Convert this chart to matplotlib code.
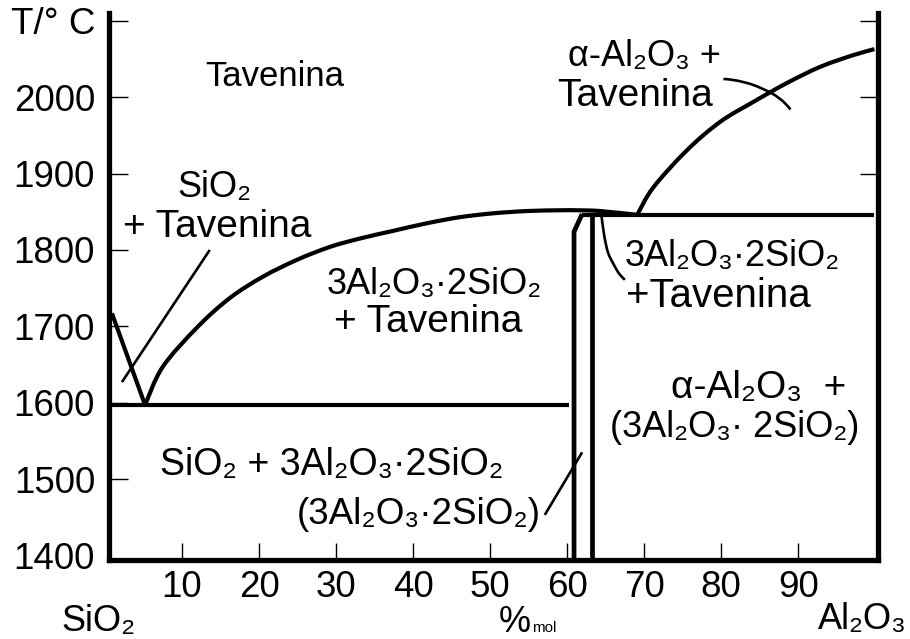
import matplotlib
matplotlib.use("Agg")
import matplotlib.pyplot as plt
from matplotlib.path import Path
from matplotlib.patches import PathPatch

plt.rcParams['font.family'] = ['Liberation Sans', 'DejaVu Sans']

# ---------------- data (composition mol% Al2O3, temperature °C) ----------------
liq_sio2_x = [0.9, 5.2]
liq_sio2_t = [1717, 1597]

liq_mid_x = [5.2, 7.5, 12.0, 16.2, 20.5, 24.9, 29.2, 33.1, 37.4, 41.8, 46.1, 50.4, 54.8, 59.1, 61.3, 64.3, 69.1]
liq_mid_t = [1597, 1647, 1699, 1737, 1765, 1787, 1804, 1815, 1825, 1835, 1843, 1848, 1851, 1852, 1852, 1851, 1846]

liq_al_x = [69.1, 71.2, 75.6, 79.9, 84.2, 88.6, 92.9, 97.1, 99.9]
liq_al_t = [1846, 1882, 1931, 1968, 1994, 2019, 2040, 2055, 2063]

eutectic_x = [0.5, 60.3]
eutectic_t = [1597, 1597]

peritectic_x = [61.9, 99.8]
peritectic_t = [1846, 1846]

mullite_left_x = [60.9, 60.9, 61.95]
mullite_left_t = [1393, 1824, 1847]
mullite_right_x = [63.25, 63.25]
mullite_right_t = [1393, 1848]

lead_sio2_x = [13.6, 2.2]
lead_sio2_t = [1800, 1627]
lead_mul_x = [57.1, 61.95]
lead_mul_t = [1453, 1535]
lead_per_x = [64.4, 64.8, 65.3, 66.0, 66.75, 67.5]
lead_per_t = [1850, 1820, 1797, 1782, 1769, 1761]
lead_top_x = [80.3, 81.95, 84.2, 86.6, 88.1, 89.0]
lead_top_t = [2024, 2022, 2016, 2005, 1994, 1984]

x_ticks = [10, 20, 30, 40, 50, 60, 70, 80, 90]
y_ticks = [1500, 1600, 1700, 1800, 1900, 2000, 2100]
y_ticklabels = ['1500', '1600', '1700', '1800', '1900', '2000', 'T/° C']
y_bottom_tick = [1400]
y_bottom_label = ['1400']
right_ticks = [1900, 2000, 2100]

# (text, x, T, fontsize)
region_labels = [
    ("Tavenina", 22.1, 2027, 25),
    ("SiO₂", 14.2, 1882, 26),
    ("+ Tavenina", 14.6, 1830, 28),
    ("3Al₂O₃·2SiO₂", 42.7, 1755, 26),
    ("+ Tavenina", 41.9, 1706, 28),
    ("α-Al₂O₃ +", 70.1, 2053, 26),
    ("Tavenina", 68.8, 2002, 28),
    ("3Al₂O₃·2SiO₂", 81.4, 1792, 26),
    ("+Tavenina", 79.6, 1740, 29),
    ("α-Al₂O₃  +", 84.9, 1619, 28),
    ("(3Al₂O₃· 2SiO₂)", 81.8, 1568, 26),
    ("SiO₂ + 3Al₂O₃·2SiO₂", 29.4, 1518, 27),
    ("(3Al₂O₃·2SiO₂)", 40.8, 1453, 26.5),
]


def smooth_path(xs, ys):
    """Catmull-Rom spline through the read points, drawn as cubic Bezier segments."""
    pts = list(zip(xs, ys))
    verts = [pts[0]]
    codes = [Path.MOVETO]
    n = len(pts)
    for i in range(n - 1):
        p0 = pts[i - 1] if i > 0 else pts[i]
        p1 = pts[i]
        p2 = pts[i + 1]
        p3 = pts[i + 2] if i + 2 < n else pts[i + 1]
        c1 = (p1[0] + (p2[0] - p0[0]) / 6, p1[1] + (p2[1] - p0[1]) / 6)
        c2 = (p2[0] - (p3[0] - p1[0]) / 6, p2[1] - (p3[1] - p1[1]) / 6)
        verts += [c1, c2, p2]
        codes += [Path.CURVE4] * 3
    return Path(verts, codes)


# ---------------- figure ----------------
W, H = 910, 639
fig = plt.figure(figsize=(W / 100, H / 100), dpi=100)
ax = fig.add_axes([109 / W, 1 - 560 / H, (877.5 - 109) / W, (560 - 12.5) / H])
ax.set_xlim(0.52, 100.3)
ax.set_ylim(1394, 2111)

lw = 3.0
for xs, ts in [(liq_mid_x, liq_mid_t), (liq_al_x, liq_al_t)]:
    ax.add_patch(PathPatch(smooth_path(xs, ts), facecolor='none', edgecolor='black',
                           lw=lw, capstyle='butt', joinstyle='round'))
for xs, ts in [(liq_sio2_x, liq_sio2_t), (eutectic_x, eutectic_t), (peritectic_x, peritectic_t)]:
    ax.plot(xs, ts, color='black', lw=lw, solid_capstyle='butt', solid_joinstyle='round')
for xs, ts in [(mullite_left_x, mullite_left_t), (mullite_right_x, mullite_right_t)]:
    ax.plot(xs, ts, color='black', lw=3.4, solid_capstyle='butt', solid_joinstyle='miter')
for xs, ts in [(lead_sio2_x, lead_sio2_t), (lead_mul_x, lead_mul_t)]:
    ax.plot(xs, ts, color='black', lw=1.9, solid_capstyle='butt')
for xs, ts in [(lead_per_x, lead_per_t), (lead_top_x, lead_top_t)]:
    ax.add_patch(PathPatch(smooth_path(xs, ts), facecolor='none', edgecolor='black',
                           lw=1.9, capstyle='butt'))

for txt, x, t, fs in region_labels:
    ax.text(x, t, txt, fontsize=fs, ha='center', va='center')

# spines
for s in ['left', 'bottom', 'right']:
    ax.spines[s].set_linewidth(3.8)
    ax.spines[s].set_capstyle('projecting')
ax.spines['top'].set_visible(False)

ax.set_xticks(x_ticks)
ax.set_xticklabels([str(v) for v in x_ticks])
ax.set_yticks(y_ticks)
ax.set_yticklabels(y_ticklabels)
ax.set_yticks(y_bottom_tick, minor=True)
ax.set_yticklabels(y_bottom_label, minor=True)
ax.tick_params(axis='x', direction='in', length=12, width=1.0, labelsize=26.5, pad=7)
ax.tick_params(axis='y', which='major', direction='in', length=14, width=1.0, labelsize=26.5, pad=10)
ax.tick_params(axis='y', which='minor', direction='in', length=0, width=0, labelsize=26.5, pad=10)

ax2 = ax.twinx()
ax2.set_ylim(ax.get_ylim())
ax2.set_yticks(right_ticks)
ax2.set_yticklabels([])
ax2.tick_params(axis='y', direction='in', length=13, width=1.0)
for s in ['left', 'bottom', 'top', 'right']:
    ax2.spines[s].set_visible(False)

fig.text(98 / W, 1 - 622 / H, "SiO₂", fontsize=26, ha='center', va='center')
fig.text(862 / W, 1 - 620 / H, "Al₂O₃", fontsize=26, ha='center', va='center')
fig.text(531 / W, 1 - 622 / H, "%", fontsize=26, ha='right', va='center')
fig.text(532 / W, 1 - 628 / H, "mol", fontsize=11, ha='left', va='center')

fig.savefig("out.png", dpi=100)
